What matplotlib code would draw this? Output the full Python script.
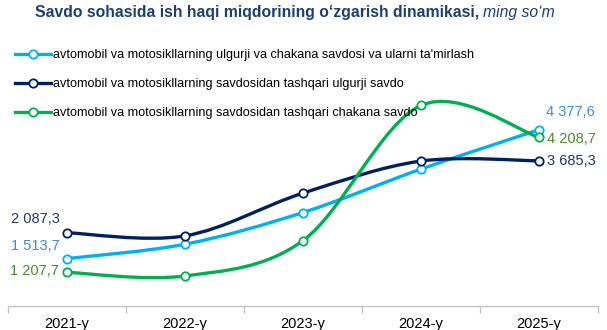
import numpy as np
import matplotlib
matplotlib.use("Agg")
import matplotlib.pyplot as plt
from matplotlib.path import Path
from matplotlib.patches import PathPatch
from matplotlib.lines import Line2D

plt.rcParams['font.family'] = ['Liberation Sans', 'DejaVu Sans']

years = ["2021-y", "2022-y", "2023-y", "2024-y", "2025-y"]
series_names = [
    "avtomobil va motosikllarning ulgurji va chakana savdosi va ularni ta'mirlash",
    "avtomobil va motosikllarning savdosidan tashqari ulgurji savdo",
    "avtomobil va motosikllarning savdosidan tashqari chakana savdo",
]
auto_trade = [1513.7, 1833.0, 2537.0, 3502.0, 4377.6]
wholesale = [2087.3, 2018.0, 2968.0, 3680.0, 3685.3]
retail = [1207.7, 1128.0, 1913.0, 4917.0, 4208.7]

line_colors = ["#00B0F0", "#002060", "#00B050"]
label_colors = ["#3E8AD6", "#1F3864", "#4E8B2C"]


def smooth_path(xs, ys):
    """Catmull-Rom style Bezier through the points (spreadsheet smoothed line)."""
    pts = np.column_stack([xs, ys]).astype(float)
    n = len(pts)
    verts = [pts[0]]
    codes = [Path.MOVETO]
    for i in range(n - 1):
        p0 = pts[i - 1] if i > 0 else pts[i]
        p1 = pts[i]
        p2 = pts[i + 1]
        p3 = pts[i + 2] if i + 2 < n else pts[i + 1]
        c1 = p1 + (p2 - p0) / 6.0
        c2 = p2 - (p3 - p1) / 6.0
        verts += [c1, c2, p2]
        codes += [Path.CURVE4] * 3
    return Path(verts, codes)


fig = plt.figure(figsize=(6.07, 3.30), dpi=100)
W, H = 607, 330
ax_left, ax_right, ax_top, ax_bottom = 8, 598, 40, 306
ax = fig.add_axes([ax_left / W, (H - ax_bottom) / H,
                   (ax_right - ax_left) / W, (ax_bottom - ax_top) / H])

x = np.arange(len(years))
ax.set_xlim(-0.5, len(years) - 0.5)
ax.set_ylim(460, 6370)

all_series = [auto_trade, wholesale, retail]
for vals, col in zip(all_series, line_colors):
    patch = PathPatch(smooth_path(x, vals), facecolor="none", edgecolor=col,
                      lw=2.4, capstyle="round", joinstyle="round", zorder=3)
    ax.add_patch(patch)
    ax.plot(x, vals, linestyle="none", marker="o", markersize=6.0,
            markerfacecolor="white", markeredgecolor=col, markeredgewidth=1.3,
            zorder=4)


def fmt(v):
    s = f"{v:,.1f}"
    return s.replace(",", " ").replace(".", ",")


# value labels at the first and last year
left_offsets = [(-5, 9), (-5, 10), (-6, 1)]
right_offsets = [(5, 13), (6, 0), (6, -1.5)]
for vals, lc, lo, ro in zip(all_series, label_colors, left_offsets, right_offsets):
    ax.annotate(fmt(vals[0]), (x[0], vals[0]), xytext=lo, textcoords="offset points",
                ha="right", va="center", fontsize=10.5, color=lc, zorder=5)
    ax.annotate(fmt(vals[-1]), (x[-1], vals[-1]), xytext=ro, textcoords="offset points",
                ha="left", va="center", fontsize=10.5, color=lc, zorder=5)

# axes styling
for s in ["left", "right", "top"]:
    ax.spines[s].set_visible(False)
ax.spines["bottom"].set_color("#BFBFBF")
ax.spines["bottom"].set_linewidth(0.9)
ax.set_yticks([])
ax.set_xticks(x)
ax.set_xticklabels(years, fontsize=10.5, color="#000000")
ax.tick_params(axis="x", which="major", length=0, pad=8)
ax.set_xticks(np.arange(-0.5, len(years), 1.0), minor=True)
ax.tick_params(axis="x", which="minor", length=5, color="#BFBFBF", width=0.9)

# legend
handles = [Line2D([0], [0], color=c, lw=2.4, marker="o", markersize=6.0,
                  markerfacecolor="white", markeredgecolor=c, markeredgewidth=1.3)
           for c in line_colors]
fig.legend(handles, series_names, loc="upper left",
           bbox_to_anchor=(15 / W, 1 - 49 / H), frameon=False, fontsize=9.05,
           handlelength=2.85, handletextpad=0.15, labelspacing=1.35,
           borderaxespad=0, borderpad=0)

# title
title_color = "#1B3F73"
t1 = fig.text(35 / W, 1 - 13 / H, "Savdo sohasida ish haqi miqdorining o‘zgarish dinamikasi,",
              fontsize=11.3, fontweight="bold", color=title_color, ha="left", va="center")
fig.canvas.draw()
bb = t1.get_window_extent()
fig.text(bb.x1 / W / fig.dpi * 100 + 4 / W, 1 - 13 / H, "ming so‘m", fontsize=11.3,
         fontstyle="italic", color=title_color, ha="left", va="center")

fig.savefig("out.png", dpi=100)
